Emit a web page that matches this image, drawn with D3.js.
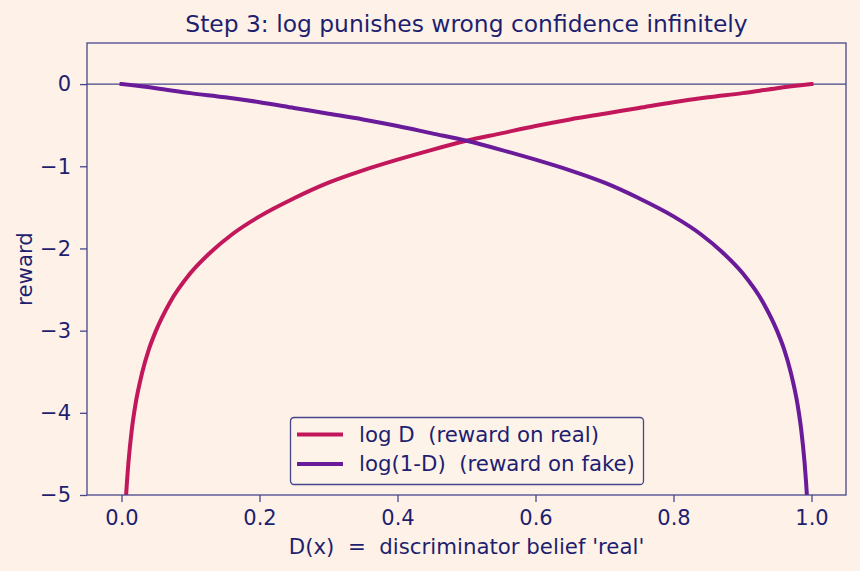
<!DOCTYPE html>
<html>
    <head>
        <meta charset="utf-8">
        <title>Step 3</title>
        <style>
body {
    margin: 0;
    background-color: #fef2e8;
}

svg {
    display: block;
    font-family: "DejaVu Sans", sans-serif;
}

text {
    white-space: pre;
}

</style>
        <script src="https://cdn.jsdelivr.net/npm/d3@7"></script>
    </head>
    <body>
        <script>
// values
var realD = [0.005, 0.0067, 0.008, 0.01, 0.015, 0.02, 0.03, 0.04, 0.05, 0.07, 0.1, 0.13, 0.16, 0.2, 0.25,
    0.3, 0.35, 0.4, 0.45, 0.5, 0.55, 0.6, 0.65, 0.7, 0.75, 0.8, 0.85, 0.9, 0.95, 1.0];
var realReward = [-5.30, -5.00, -4.83, -4.61, -4.20, -3.91, -3.51, -3.22, -3.00, -2.66, -2.30, -2.04, -1.83, -1.61, -1.39,
    -1.20, -1.05, -0.92, -0.80, -0.69, -0.60, -0.51, -0.43, -0.36, -0.29, -0.22, -0.16, -0.11, -0.05, 0.00];
var fakeD = [0.0, 0.05, 0.1, 0.15, 0.2, 0.25, 0.3, 0.35, 0.4, 0.45, 0.5, 0.55, 0.6, 0.65, 0.7, 0.75,
    0.8, 0.84, 0.87, 0.9, 0.93, 0.95, 0.96, 0.97, 0.98, 0.985, 0.99, 0.992, 0.9933, 0.995];
var fakeReward = [0.00, -0.05, -0.11, -0.16, -0.22, -0.29, -0.36, -0.43, -0.51, -0.60, -0.69, -0.80, -0.92, -1.05, -1.20, -1.39,
    -1.61, -1.83, -2.04, -2.30, -2.66, -3.00, -3.22, -3.51, -3.91, -4.20, -4.61, -4.83, -5.00, -5.30];
var xTicks = [0.0, 0.2, 0.4, 0.6, 0.8, 1.0];
var yTicks = [0, -1, -2, -3, -4, -5];
var seriesNames = ["log D  (reward on real)", "log(1-D)  (reward on fake)"];
var seriesColors = ["#c2185b", "#6a1b9a"];

var width = 860,
    height = 571;
var margin = {top: 43, right: 14, bottom: 76, left: 87};
var ink = "#1f1f70", edge = "#45458a";

var svg = d3.select("body")
    .append("svg")
    .attr("width", width)
    .attr("height", height);

svg.append("rect")
    .attr("width", width)
    .attr("height", height)
    .attr("fill", "#fef2e8");

var x = d3.scaleLinear()
    .domain([-0.05, 1.05])
    .range([margin.left, width - margin.right]);

var y = d3.scaleLinear()
    .domain([-5, 0.5])
    .range([height - margin.bottom, margin.top]);

svg.append("clipPath")
    .attr("id", "plot")
    .append("rect")
    .attr("x", margin.left)
    .attr("y", margin.top)
    .attr("width", width - margin.left - margin.right)
    .attr("height", height - margin.top - margin.bottom);

// zero line
svg.append("line")
    .attr("x1", margin.left)
    .attr("x2", width - margin.right)
    .attr("y1", y(0))
    .attr("y2", y(0))
    .attr("stroke", edge)
    .attr("stroke-width", 1.3);

var line = d3.line()
    .x(function (d) { return x(d[0]); })
    .y(function (d) { return y(d[1]); })
    .curve(d3.curveMonotoneX);

var series = [d3.zip(realD, realReward), d3.zip(fakeD, fakeReward)];

svg.append("g")
    .attr("clip-path", "url(#plot)")
    .selectAll("path")
    .data(series)
    .enter()
    .append("path")
    .attr("d", line)
    .attr("fill", "none")
    .attr("stroke", function (d, i) { return seriesColors[i]; })
    .attr("stroke-width", 4)
    .attr("stroke-linecap", "square");

// axes
var xAxis = svg.append("g")
    .attr("transform", "translate(0," + (height - margin.bottom) + ")")
    .call(d3.axisBottom(x).tickValues(xTicks).tickFormat(d3.format(".1f")).tickSize(7).tickPadding(8).tickSizeOuter(0));

var yAxis = svg.append("g")
    .attr("transform", "translate(" + margin.left + ",0)")
    .call(d3.axisLeft(y).tickValues(yTicks).tickFormat(function (d) { return d < 0 ? "\u2212" + Math.abs(d) : d; })
        .tickSize(7).tickPadding(9).tickSizeOuter(0));

svg.selectAll(".domain").remove();
svg.selectAll(".tick line").attr("stroke", edge).attr("stroke-width", 1.3);
svg.selectAll(".tick text")
    .attr("fill", ink)
    .attr("font-family", "DejaVu Sans")
    .attr("font-size", 21);

// frame
svg.append("rect")
    .attr("x", margin.left)
    .attr("y", margin.top)
    .attr("width", width - margin.left - margin.right)
    .attr("height", height - margin.top - margin.bottom)
    .attr("fill", "none")
    .attr("stroke", edge)
    .attr("stroke-width", 1.3);

// texts
svg.append("text")
    .attr("x", (margin.left + width - margin.right) / 2)
    .attr("y", 32)
    .attr("text-anchor", "middle")
    .attr("fill", ink)
    .attr("font-size", 23.4)
    .text("Step 3: log punishes wrong confidence infinitely");

svg.append("text")
    .attr("x", (margin.left + width - margin.right) / 2)
    .attr("y", 554)
    .attr("text-anchor", "middle")
    .attr("fill", ink)
    .attr("font-size", 21.3)
    .text("D(x)  =  discriminator belief 'real'");

svg.append("text")
    .attr("transform", "translate(32," + ((margin.top + height - margin.bottom) / 2) + ") rotate(-90)")
    .attr("text-anchor", "middle")
    .attr("fill", ink)
    .attr("font-size", 21.3)
    .text("reward");

// legend
var legend = svg.append("g")
    .attr("transform", "translate(290,417)");

legend.append("rect")
    .attr("x", 0.5)
    .attr("y", 0.5)
    .attr("width", 353)
    .attr("height", 67)
    .attr("rx", 3.5)
    .attr("fill", "#fef2e8")
    .attr("fill-opacity", 0.8)
    .attr("stroke", edge)
    .attr("stroke-width", 1.3);

var items = legend.selectAll("g.item")
    .data(seriesNames)
    .enter()
    .append("g")
    .attr("class", "item")
    .attr("transform", function (d, i) { return "translate(0," + (17.5 + i * 29.5) + ")"; });

items.append("line")
    .attr("x1", 7)
    .attr("x2", 53)
    .attr("stroke", function (d, i) { return seriesColors[i]; })
    .attr("stroke-width", 4);

items.append("text")
    .attr("x", 69)
    .attr("dy", "0.35em")
    .attr("fill", ink)
    .attr("font-size", 21.3)
    .text(function (d) { return d; });

        </script>
    </body>
</html>
